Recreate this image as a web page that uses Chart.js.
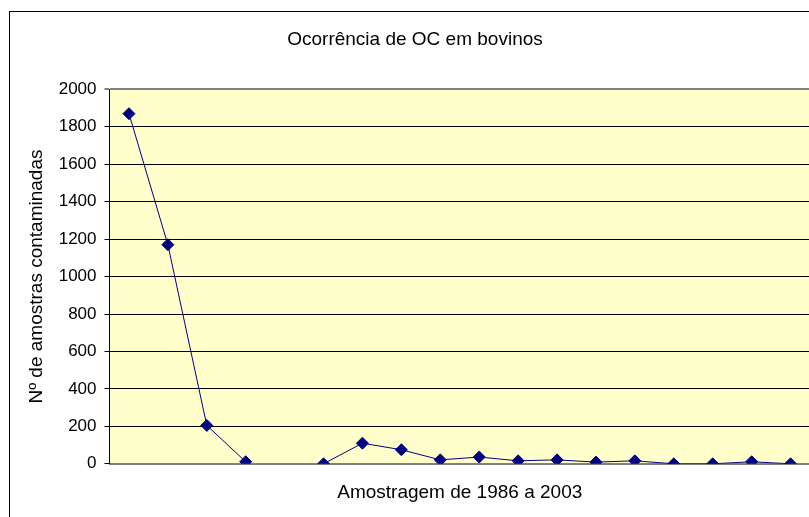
<!DOCTYPE html>
<html>
<head>
<meta charset="utf-8">
<title>Ocorrência de OC em bovinos</title>
<script src="https://cdn.jsdelivr.net/npm/chart.js@4.4.1/dist/chart.umd.min.js"></script>
<style>
  html, body { margin: 0; padding: 0; background: #fff; overflow: hidden; }
  #wrap { position: relative; width: 809px; height: 517px; overflow: hidden; }
  #frame { position: absolute; left: 9px; top: 11px; width: 900px; height: 600px; border-left: 1px solid #000; border-top: 1px solid #000; }
  #myChart { position: absolute; left: 0; top: 0; }
</style>
</head>
<body>
<div id="wrap">
  <div id="frame"></div>
  <canvas id="myChart" width="830" height="540"></canvas>
</div>
<script>
// ************ data ************
var years = ["1986", "1987", "1988", "1989", "1990", "1991", "1992", "1993", "1994",
             "1995", "1996", "1997", "1998", "1999", "2000", "2001", "2002", "2003"];
// 1990 has no sample -> gap in the line
var amostras = [1870, 1170, 205, 11, null, 0, 110, 75, 21, 36, 16, 21, 9, 16, 0, 0, 11, 0];
var yTicks = [0, 200, 400, 600, 800, 1000, 1200, 1400, 1600, 1800, 2000];

var chartTitle = "Ocorrência de OC em bovinos";
var xTitle = "Amostragem de 1986 a 2003";
var yTitle = "Nº de amostras contaminadas";

var fontFamily = "'Liberation Sans', Arial, sans-serif";

// yellow plot area, like excel
var plotBackground = {
  id: "plotBackground",
  beforeDraw: function(chart) {
    var a = chart.chartArea;
    var ctx = chart.ctx;
    ctx.save();
    ctx.fillStyle = "#FFFFCC";
    ctx.fillRect(a.left, a.top, a.right - a.left, a.bottom - a.top);
    ctx.restore();
  }
};

var ctx = document.getElementById("myChart").getContext("2d");
var ocChart = new Chart(ctx, {
  type: "line",
  data: {
    labels: years,
    datasets: [{
      label: "Amostras",
      data: amostras,
      borderColor: "#000080",
      borderWidth: 1,
      backgroundColor: "#000080",
      pointStyle: "rectRot",
      pointRadius: 6,
      pointBorderWidth: 1,
      pointBackgroundColor: "#000080",
      pointBorderColor: "#000080",
      spanGaps: false,
      tension: 0
    }]
  },
  options: {
    responsive: false,
    animation: false,
    layout: { padding: { left: 20, right: 20, top: 0, bottom: 0 } },
    plugins: {
      legend: { display: false },
      tooltip: { enabled: false },
      title: {
        display: true,
        text: chartTitle,
        color: "#000",
        font: { family: fontFamily, size: 19, weight: "normal" },
        padding: { top: 28.6, bottom: 37.9 }
      }
    },
    scales: {
      x: {
        type: "category",
        offset: true,
        grid: { display: false, drawTicks: false },
        border: { display: true, color: "#808080", width: 2 },
        ticks: { display: false },
        title: {
          display: true,
          text: xTitle,
          color: "#000",
          font: { family: fontFamily, size: 19 },
          padding: { top: 18, bottom: 35.4 }
        }
      },
      y: {
        min: 0,
        max: 2000,
        afterFit: function(scale) { scale.width = 89.5; },
        afterBuildTicks: function(scale) {
          scale.ticks = yTicks.map(function(v) { return { value: v }; });
        },
        grid: {
          color: function(c) { return c.tick && c.tick.value === 2000 ? "#808080" : "#000"; },
          lineWidth: function(c) { return c.tick && c.tick.value === 2000 ? 2 : 1; },
          tickLength: 5
        },
        border: { display: true, color: "#000", width: 1 },
        ticks: {
          color: "#000",
          padding: 8,
          font: { family: fontFamily, size: 17 },
          callback: function(v) { return String(v); }
        },
        title: {
          display: true,
          text: yTitle,
          color: "#000",
          font: { family: fontFamily, size: 19 },
          padding: { top: 5.6, bottom: 0 }
        }
      }
    }
  },
  plugins: [plotBackground]
});
</script>
</body>
</html>
